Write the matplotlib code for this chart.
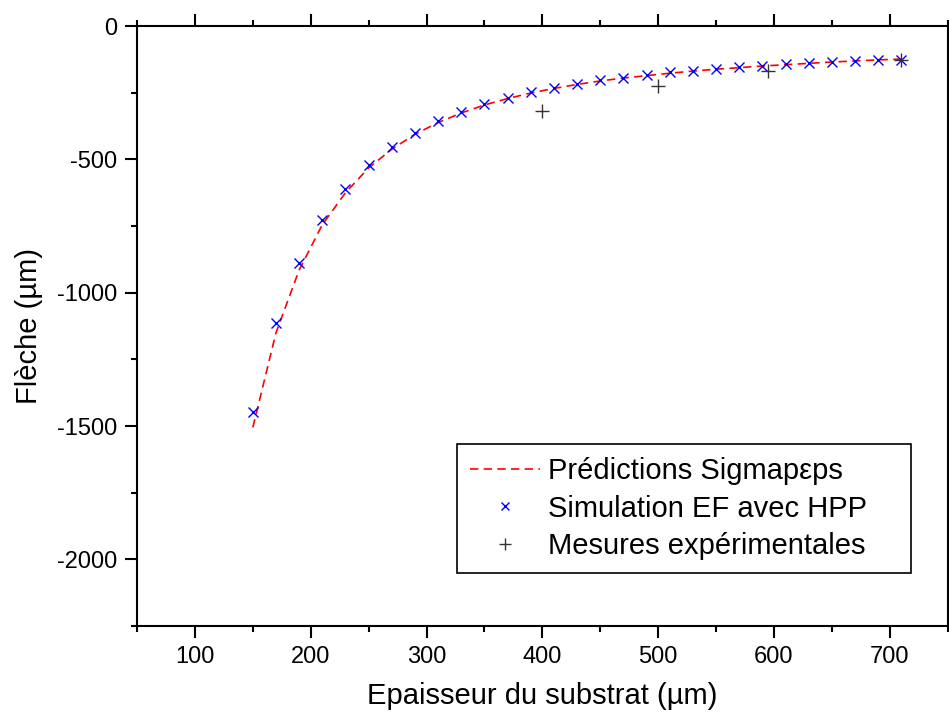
import matplotlib
matplotlib.use("Agg")
import matplotlib.pyplot as plt
from matplotlib.ticker import MultipleLocator

plt.rcParams['font.family'] = ['Liberation Sans', 'DejaVu Sans']
plt.rcParams['axes.unicode_minus'] = False

# --- données ---
ep_sim = [150, 170, 190, 210, 230, 250, 270, 290, 310, 330, 350, 370, 390, 410,
          430, 450, 470, 490, 510, 530, 550, 570, 590, 610, 630, 650, 670, 690, 710]
fleche_sim = [-1448, -1112, -888, -726, -612, -522, -455, -400, -357, -322, -292,
              -270, -249, -233, -216, -204, -195, -185, -174, -167, -160, -155,
              -149, -143, -138, -134, -131, -128, -126]

ep_pred = ep_sim
fleche_pred = [-1505, -1150, -915, -745, -625, -532, -462, -406, -362, -326, -296,
               -272, -251, -234, -219, -206, -195, -186, -177, -169, -162, -156,
               -150, -145, -140, -135, -131, -127, -124]

ep_mes = [400, 500, 595, 710]
fleche_mes = [-317, -224, -167, -127]

fig = plt.figure(figsize=(9.49, 7.19), dpi=100)
ax = fig.add_axes([0.1444, 0.1293, 0.8542, 0.8345])

ax.plot(ep_pred, fleche_pred, color='red', lw=1.2, ls='--', dashes=(5, 3.2),
        label='Prédictions Sigmapεps')
ax.plot(ep_sim, fleche_sim, ls='none', marker='x', color='blue', ms=7, mew=1.0,
        label='Simulation EF avec HPP')
ax.plot(ep_mes, fleche_mes, ls='none', marker='+', color='#333333', ms=10, mew=1.0,
        label='Mesures expérimentales')

ax.set_xlim(50, 750)
ax.set_ylim(-2250, 0)
ax.xaxis.set_major_locator(MultipleLocator(100))
ax.xaxis.set_minor_locator(MultipleLocator(50))
ax.yaxis.set_major_locator(MultipleLocator(500))
ax.yaxis.set_minor_locator(MultipleLocator(250))

for s in ax.spines.values():
    s.set_linewidth(1.5)
ax.tick_params(which='both', direction='out', width=1.5, top=True, right=False,
               labelsize=17)
ax.tick_params(which='major', length=8.5, pad=6)
ax.tick_params(which='minor', length=4)

ax.set_xlabel('Epaisseur du substrat (µm)', fontsize=21, labelpad=10)
ax.set_ylabel('Flèche (µm)', fontsize=21, labelpad=10)

leg = ax.legend(loc='upper left', bbox_to_anchor=(0.395, 0.088, 0.56, 0.215),
                mode='expand', fontsize=21, frameon=True, fancybox=False,
                edgecolor='black', framealpha=1, borderpad=0.45,
                labelspacing=0.32, handlelength=2.4, handletextpad=0.25,
                numpoints=1, borderaxespad=0, markerscale=0.85)
leg.get_frame().set_linewidth(1.2)

fig.savefig('out.png', dpi=100)
